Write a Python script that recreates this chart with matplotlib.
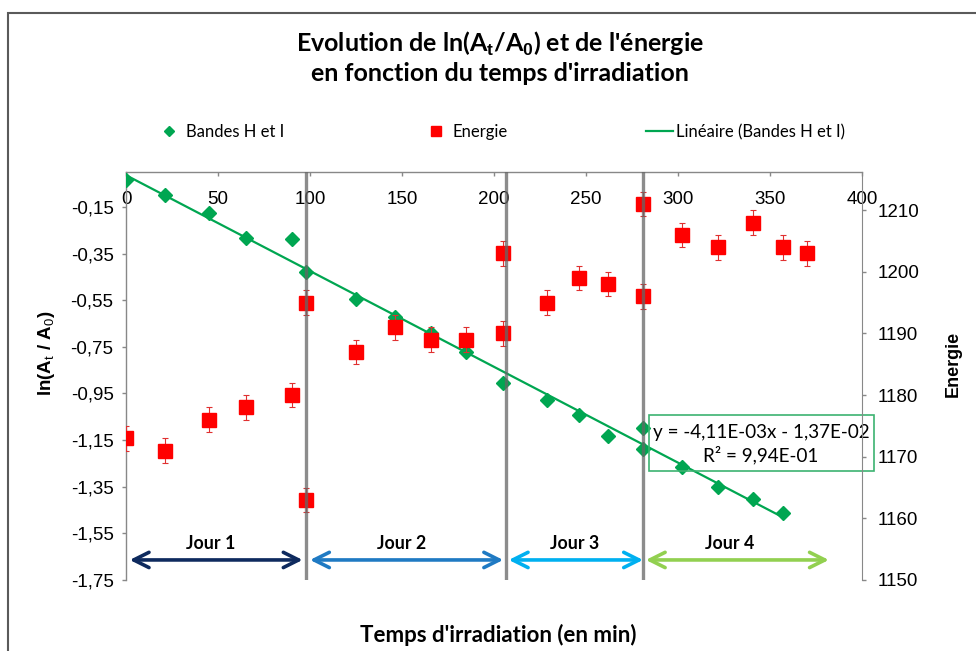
import numpy as np
import matplotlib
matplotlib.use('Agg')
import matplotlib.pyplot as plt
from matplotlib.patches import Rectangle
from matplotlib.lines import Line2D
from matplotlib.ticker import FuncFormatter

plt.rcParams['mathtext.fontset'] = 'custom'
plt.rcParams['mathtext.rm'] = 'Liberation Sans'
plt.rcParams['mathtext.bf'] = 'Liberation Sans:bold'

# ln(At/A0), left axis
bandes_t = [0, 21, 45, 65, 90, 98, 125, 146, 166, 185, 205, 229, 246, 262, 281, 281, 302, 322, 341, 357]
bandes_val = [-0.035, -0.097, -0.178, -0.281, -0.288, -0.429, -0.543, -0.621, -0.69, -0.774,
              -0.904, -0.979, -1.041, -1.131, -1.097, -1.189, -1.267, -1.35, -1.404, -1.461]

# energie, right axis
energie_t = [0, 21, 45, 65, 90, 98, 98, 125, 146, 166, 185, 205, 205, 229, 246, 262, 281, 281,
             302, 322, 341, 357, 370]
energie_val = [1173, 1171, 1176, 1178, 1180, 1163, 1195, 1187, 1191, 1189, 1189, 1190, 1203,
               1195, 1199, 1198, 1211, 1196, 1206, 1204, 1208, 1204, 1203]
energie_err = [2] * len(energie_val)

# trendline from the chart
trend_slope = -4.11e-3
trend_intercept = -1.37e-2
trend_text = 'y = -4,11E-03x - 1,37E-02\nR² = 9,94E-01'

# day separations
day_lines = [98, 206.5, 281]
day_names = ['Jour 1', 'Jour 2', 'Jour 3', 'Jour 4']
day_spans = [(2, 96), (100, 205), (208, 281), (282.5, 382)]
day_label_x = [46, 150, 244, 328]
day_colors = ['#0E2A5E', '#1F7AC3', '#00B0F0', '#92D050']

left_ticks = [-1.75, -1.55, -1.35, -1.15, -0.95, -0.75, -0.55, -0.35, -0.15]
right_ticks = [1150, 1160, 1170, 1180, 1190, 1200, 1210]
x_ticks = [0, 50, 100, 150, 200, 250, 300, 350, 400]

green = '#00A651'
red = '#FF0000'
calibri = 'Lato'
arial = 'Liberation Sans'

fig = plt.figure(figsize=(9.76, 6.51), dpi=100)
ax = fig.add_axes([126/976, 71/651, 736/976, 408/651])
ax2 = ax.twinx()

# left axis
ax.plot(bandes_t, bandes_val, 'D', color=green, ms=6.8, zorder=3, label='Bandes H et I')
tx = np.array([min(bandes_t), max(bandes_t)])
ax.plot(tx, trend_slope * tx + trend_intercept, '-', color=green, lw=1.6, zorder=2,
        label='Linéaire (Bandes H et I)')
ax.set_xlim(0, 400)
ax.set_ylim(-1.75, 0)
ax.set_xticks(x_ticks)
ax.set_yticks(left_ticks)
ax.yaxis.set_major_formatter(FuncFormatter(lambda v, p: f'{v:.2f}'.replace('.', ',')))
ax.spines['bottom'].set_position(('data', 0))
ax.spines['top'].set_visible(False)
ax.spines['right'].set_visible(False)
for s in ['left', 'bottom']:
    ax.spines[s].set_color('#888888')
    ax.spines[s].set_linewidth(1.0)
ax.tick_params(axis='both', colors='#888888', labelcolor='black', length=3, width=1,
               labelsize=13.5, labelfontfamily=arial)
ax.tick_params(axis='x', pad=11)
ax.tick_params(axis='y', pad=6)
ax.set_ylabel('ln(A$_\\mathrm{t}$ / A$_\\mathrm{0}$)', fontsize=13.5, fontweight='bold', family=arial)
ax.yaxis.set_label_coords(-0.094, 0.556)
ax.set_xlabel("Temps d'irradiation (en min)", fontsize=16, fontweight='bold', family=calibri)
ax.xaxis.set_label_coords(0.506, -0.108)

# right axis
ax2.errorbar(energie_t, energie_val, yerr=energie_err, fmt='s', color=red, ms=9.5,
             ecolor='#E03030', elinewidth=0.8, capsize=2.5, capthick=0.8, zorder=3, label='Energie')
ax2.set_ylim(1150, 1216.2)
ax2.set_yticks(right_ticks)
for s in ['left', 'bottom', 'top']:
    ax2.spines[s].set_visible(False)
ax2.spines['right'].set_color('#888888')
ax2.tick_params(axis='y', colors='#888888', labelcolor='black', length=3, width=1, pad=8,
                labelsize=13.5, labelfontfamily=arial)
ax2.set_ylabel('Energie', fontsize=13, fontweight='bold', family=arial)
ax2.yaxis.set_label_coords(1.112, 0.53)

# day separators, drawn over the markers
for d in day_lines:
    ax2.axvline(d, ymin=(1150.4 - 1150) / 66.2, ymax=1, color='#666666', alpha=0.75, lw=2.4, zorder=5)

y_arrow = -1.664
for (x0, x1), name, lx, c in zip(day_spans, day_names, day_label_x, day_colors):
    ax.annotate('', xy=(x1, y_arrow), xytext=(x0, y_arrow), annotation_clip=False,
                arrowprops=dict(arrowstyle='<->,head_length=1.1,head_width=0.55', lw=2.6,
                                color=c, shrinkA=0, shrinkB=0, mutation_scale=10))
    ax.text(lx, -1.593, name, ha='center', va='center', fontsize=12.8, fontweight='bold',
            family=calibri)

# equation box
ax.add_patch(Rectangle((0.7106, 0.268), 0.3057, 0.1365, transform=ax.transAxes, fill=False,
                       edgecolor='#3CB371', lw=1.2, clip_on=False, zorder=6))
ax.text(0.8628, 0.333, trend_text, transform=ax.transAxes, ha='center', va='center',
        fontsize=13.6, family=calibri, linespacing=1.3, zorder=6)

# title
fig.text(0.512, 0.912, "Evolution de ln(A$_\\mathbf{t}$/A$_\\mathbf{0}$) et de l'énergie\n"
         "en fonction du temps d'irradiation", ha='center', va='center', fontsize=18,
         fontweight='bold', family=calibri, linespacing=1.2)

# legend
h_b = Line2D([], [], marker='D', ls='none', color=green, ms=5)
h_e = Line2D([], [], marker='s', ls='none', color=red, ms=7)
h_l = Line2D([], [], ls='-', color=green, lw=1.6)
fig.legend([h_b, h_e, h_l], ['Bandes H et I', 'Energie', 'Linéaire (Bandes H et I)'],
           loc='center', bbox_to_anchor=(500.5/976, 1 - 132/651), ncol=3, frameon=False,
           prop={'family': calibri, 'size': 12}, handlelength=1.6, handletextpad=0.2,
           columnspacing=8.3)

# chart border
fig.patches.append(Rectangle((8/976, -0.1), 1.2, (651 - 13)/651 + 0.1, transform=fig.transFigure,
                             fill=False, edgecolor='#5A5A5A', lw=1.5))

fig.savefig('out.png', dpi=100)
